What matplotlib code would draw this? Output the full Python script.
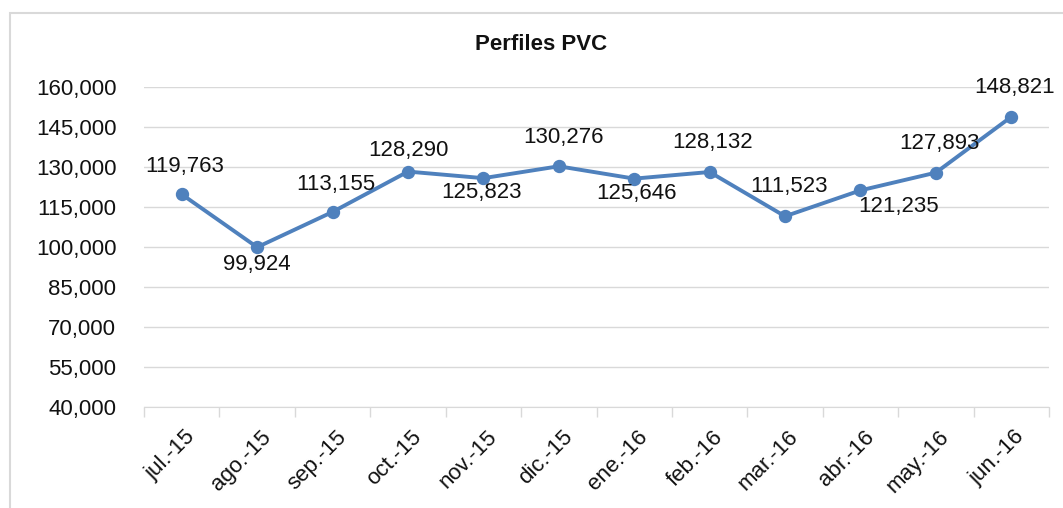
import matplotlib.pyplot as plt
from matplotlib.patches import Rectangle
from matplotlib.transforms import ScaledTranslation

meses = ["jul.-15", "ago.-15", "sep.-15", "oct.-15", "nov.-15", "dic.-15",
         "ene.-16", "feb.-16", "mar.-16", "abr.-16", "may.-16", "jun.-16"]
valores = [119763, 99924, 113155, 128290, 125823, 130276,
           125646, 128132, 111523, 121235, 127893, 148821]
yticks = list(range(40000, 160001, 15000))

# desplazamiento de cada etiqueta (pixeles, x y)
desp = [(3, -28), (0, 17), (3, -27), (0, -21), (-2, 14), (5, -29),
        (2, 15), (3, -29), (4, -30), (38, 16), (4, -29), (3, -29)]

plt.rcParams["font.family"] = ["Liberation Sans", "DejaVu Sans"]

fig = plt.figure(figsize=(10.63, 5.08), dpi=100)
ax = fig.add_axes([0.1355, 0.1988, 0.9868 - 0.1355, 0.8287 - 0.1988])

x = list(range(len(meses)))
ax.plot(x, valores, color="#4f81bd", lw=2.8, marker="o", ms=8.6, zorder=3)

for i, v in enumerate(valores):
    dx, dy = desp[i]
    ax.annotate(f"{v:,}", (i, v), xytext=(dx * 0.72, -dy * 0.72),
                textcoords="offset points", ha="center", va="center",
                fontsize=16, color="#111111")

ax.set_xlim(-0.5, len(meses) - 0.5)
ax.set_ylim(40000, 160000)
ax.set_yticks(yticks)
ax.set_yticklabels([f"{t:,}" for t in yticks], fontsize=16, color="#111111")
ax.set_xticks(x)
ax.set_xticklabels(meses, rotation=45, ha="right", rotation_mode="anchor",
                   fontsize=16, color="#111111")
ax.tick_params(axis="y", length=0, pad=20)
ax.tick_params(axis="x", length=0, pad=14)
for lab in ax.get_xticklabels():
    lab.set_transform(lab.get_transform() + ScaledTranslation(0.03, 0, fig.dpi_scale_trans))

# marcas entre categorias
ax.set_xticks([i - 0.5 for i in range(len(meses) + 1)], minor=True)
ax.tick_params(axis="x", which="minor", length=7, color="#d9d9d9", width=1)

ax.grid(axis="y", color="#d9d9d9", lw=1)
ax.set_axisbelow(True)
for s in ["top", "right", "left"]:
    ax.spines[s].set_visible(False)
ax.spines["bottom"].set_color("#d9d9d9")

fig.text(0.5094, 0.913, "Perfiles PVC", ha="center", va="center",
         fontsize=16, fontweight="bold", color="#111111")

fig.patches.append(Rectangle((10 / 1063, -0.1), 1.2, 0.9744 + 0.1,
                             transform=fig.transFigure, fill=False,
                             edgecolor="#d9d9d9", lw=1.5))

plt.savefig("out.png", dpi=100)
